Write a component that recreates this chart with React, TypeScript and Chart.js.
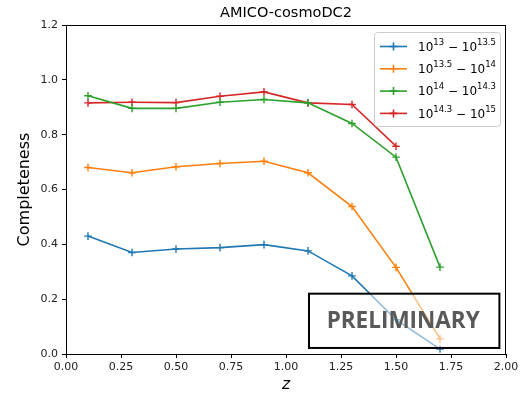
import React, { useEffect, useRef } from "react";
import { Chart, registerables } from "chart.js";

Chart.register(...registerables);

// Redshift bin centres
const redshift = [0.1, 0.3, 0.5, 0.7, 0.9, 1.1, 1.3, 1.5, 1.7];

// Completeness per halo-mass bin
const compM13 = [0.43, 0.37, 0.383, 0.388, 0.399, 0.376, 0.285, 0.125, 0.018];
const compM135 = [0.68, 0.661, 0.683, 0.695, 0.703, 0.661, 0.538, 0.316, 0.055];
const compM14 = [0.942, 0.896, 0.896, 0.918, 0.928, 0.916, 0.841, 0.718, 0.317];
const compM143 = [0.916, 0.918, 0.917, 0.94, 0.956, 0.916, 0.91, 0.758];

// Mass-bin edges (log10 M), shown as powers of ten
const massBins: [string, string][] = [
  ["13", "13.5"],
  ["13.5", "14"],
  ["14", "14.3"],
  ["14.3", "15"],
];

const seriesColors = ["#1f77b4", "#ff7f0e", "#2ca02c", "#d62728"];
const chartTitle = "AMICO-cosmoDC2";
const xTitle = "z";
const yTitle = "Completeness";
const stampText = "PRELIMINARY";

const FONT = "'DejaVu Sans', sans-serif";

function drawMassLabel(ctx: CanvasRenderingContext2D, x: number, y: number, lo: string, hi: string) {
  const base = `12px ${FONT}`;
  const sup = `8.5px ${FONT}`;
  let cx = x;
  const part = (t: string, f: string, dy: number) => {
    ctx.font = f;
    ctx.fillText(t, cx, y + dy);
    cx += ctx.measureText(t).width;
  };
  part("10", base, 0);
  part(lo, sup, -5);
  part(" \u2212 ", base, 0);
  part("10", base, 0);
  part(hi, sup, -5);
}

function drawCross(ctx: CanvasRenderingContext2D, x: number, y: number, r: number) {
  ctx.beginPath();
  ctx.moveTo(x - r, y);
  ctx.lineTo(x + r, y);
  ctx.moveTo(x, y - r);
  ctx.lineTo(x, y + r);
  ctx.stroke();
}

const decorations = {
  id: "decorations",
  afterDraw(chart: any) {
    const ctx: CanvasRenderingContext2D = chart.ctx;
    const { left, right, top, bottom } = chart.chartArea;
    const xs = chart.scales.x;
    const ys = chart.scales.y;
    ctx.save();

    // "PRELIMINARY" stamp over the lower right of the axes
    const bx0 = xs.getPixelForValue(1.1) + 1;
    const bx1 = xs.getPixelForValue(1.97);
    const by0 = ys.getPixelForValue(0.22);
    const by1 = ys.getPixelForValue(0.022);
    ctx.fillStyle = "rgba(255,255,255,0.5)";
    ctx.fillRect(bx0, by0, bx1 - bx0, by1 - by0);
    ctx.strokeStyle = "#000";
    ctx.lineWidth = 2;
    ctx.strokeRect(bx0, by0, bx1 - bx0, by1 - by0);
    ctx.fillStyle = "#595959";
    ctx.font = `bold 22.5px 'Open Sans', sans-serif`;
    ctx.textAlign = "center";
    ctx.textBaseline = "middle";
    ctx.fillText(stampText, (bx0 + bx1) / 2 - 1, (by0 + by1) / 2 + 1);

    // axes frame
    ctx.strokeStyle = "#000";
    ctx.lineWidth = 1;
    ctx.strokeRect(left + 0.5, top + 0.5, right - left - 1, bottom - top);

    // title
    ctx.fillStyle = "#000";
    ctx.font = `14.5px ${FONT}`;
    ctx.textAlign = "center";
    ctx.textBaseline = "middle";
    ctx.fillText(chartTitle, (left + right) / 2, top - 12);

    // legend
    const lx = right - 132;
    const ly = top + 7;
    const lw = 126;
    const lh = 94;
    ctx.fillStyle = "rgba(255,255,255,0.8)";
    ctx.strokeStyle = "#cccccc";
    ctx.lineWidth = 1;
    ctx.beginPath();
    (ctx as any).roundRect(lx + 0.5, ly + 0.5, lw, lh, 3);
    ctx.fill();
    ctx.stroke();
    ctx.textAlign = "left";
    ctx.textBaseline = "middle";
    chart.data.datasets.forEach((ds: any, i: number) => {
      const rowY = ly + 14.5 + i * 22.3;
      ctx.strokeStyle = ds.borderColor;
      ctx.lineWidth = 1.6;
      ctx.beginPath();
      ctx.moveTo(lx + 6, rowY);
      ctx.lineTo(lx + 33, rowY);
      ctx.stroke();
      drawCross(ctx, lx + 19.5, rowY, 4);
      ctx.fillStyle = "#000";
      drawMassLabel(ctx, lx + 44, rowY + 1, massBins[i][0], massBins[i][1]);
    });

    ctx.restore();
  },
};

const toPoints = (vals: number[]) => vals.map((v, i) => ({ x: redshift[i], y: v }));

export default function App() {
  const canvasRef = useRef<HTMLCanvasElement | null>(null);

  useEffect(() => {
    const canvas = canvasRef.current;
    if (!canvas) return;
    const series = [compM13, compM135, compM14, compM143];
    const chart = new Chart(canvas, {
      type: "line",
      data: {
        datasets: series.map((vals, i) => ({
          label: `10^${massBins[i][0]} - 10^${massBins[i][1]}`,
          data: toPoints(vals),
          borderColor: seriesColors[i],
          backgroundColor: seriesColors[i],
          borderWidth: 1.6,
          tension: 0,
          pointStyle: "cross",
          pointRadius: 3.8,
          pointBorderWidth: 1.4,
          pointHoverRadius: 3.8,
          fill: false,
        })),
      },
      options: {
        responsive: false,
        animation: false,
        events: [],
        layout: { padding: { left: 0, right: 16, top: 25, bottom: 0 } },
        plugins: {
          legend: { display: false },
          title: { display: false },
          tooltip: { enabled: false },
        },
        scales: {
          x: {
            type: "linear",
            min: 0,
            max: 2,
            grid: { drawOnChartArea: false, drawTicks: true, tickLength: 4, tickColor: "#000" },
            border: { display: true, color: "#000", width: 1 },
            ticks: {
              stepSize: 0.25,
              padding: 3,
              color: "#222",
              font: { family: FONT, size: 11 },
              maxRotation: 0,
              callback: (v: any) => Number(v).toFixed(2),
            },
            title: {
              display: true,
              text: xTitle,
              color: "#000",
              padding: { top: 1, bottom: 0 },
              font: { family: FONT, size: 15.5, style: "italic" },
            },
            afterFit: (s: any) => {
              s.height = 40;
            },
          },
          y: {
            type: "linear",
            min: 0,
            max: 1.2,
            grid: { drawOnChartArea: false, drawTicks: true, tickLength: 4, tickColor: "#000" },
            border: { display: true, color: "#000", width: 1 },
            ticks: {
              stepSize: 0.2,
              padding: 4,
              color: "#222",
              font: { family: FONT, size: 11 },
              callback: (v: any) => Number(v).toFixed(1),
            },
            title: {
              display: true,
              text: yTitle,
              color: "#000",
              padding: { top: 15, bottom: 0 },
              font: { family: FONT, size: 16 },
            },
            afterFit: (s: any) => {
              s.width = 66;
            },
          },
        },
      },
      plugins: [decorations],
    });
    return () => chart.destroy();
  }, []);

  return (
    <div style={{ position: "absolute", left: 0, top: 0, width: 522, height: 394, background: "#fff" }}>
      <canvas ref={canvasRef} width={522} height={394} style={{ display: "block" }} />
    </div>
  );
}
